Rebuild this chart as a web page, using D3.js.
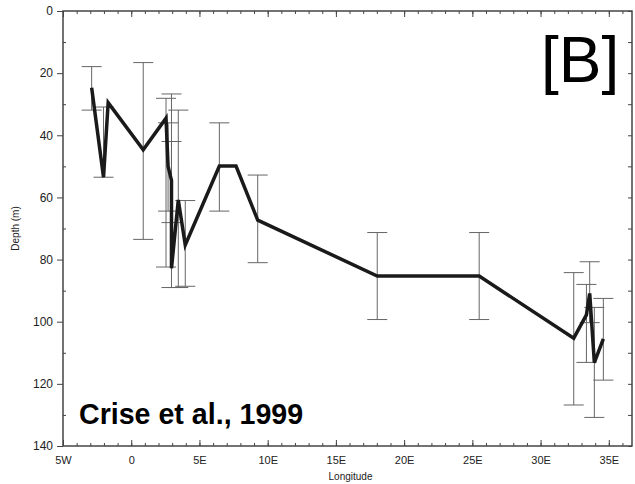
<!DOCTYPE html>
<html>
<head>
<meta charset="utf-8">
<script src="https://cdn.jsdelivr.net/npm/d3@7"></script>
<style>
  body { margin: 0; background: #fff; }
  svg { display: block; font-family: Arial, "Liberation Sans", sans-serif; }
</style>
</head>
<body>
<svg id="chart" width="635" height="484"></svg>
<script>
// station longitudes (deg E, negative = W)
var lon = [-2.9, -2.03, -1.69, 0.88, 2.55, 2.7, 2.95, 2.95, 3.45, 3.96,
  6.46, 7.68, 9.27, 18.03, 25.5, 32.43, 33.36, 33.6, 33.94, 34.6];
// depth (m)
var depth = [24.7, 53.5, 29.5, 44.7, 34.5, 50, 54.5, 82.8, 60.8, 75.3,
  49.9, 49.9, 67.3, 85.3, 85.3, 105.3, 97.8, 90.9, 113.2, 105.5];
// error bar limits (null = no bar)
var depthLo = [17.9, 30.9, null, 16.6, 28.1, 36, 42, 26.7, 31.9, 61,
  36, null, 52.8, 71.3, 71.3, 84.2, 88, 80.7, 95.4, 92.5];
var depthHi = [31.9, 53.5, null, 73.5, 82.4, 64.4, 68.1, 89, 89, 88.6,
  64.4, null, 81, 99.3, 99.3, 126.8, 113.1, 100.3, 130.8, 118.8];

var xMajor = [-5, 0, 5, 10, 15, 20, 25, 30, 35];
var xLabels = ['5W', '0', '5E', '10E', '15E', '20E', '25E', '30E', '35E'];
var yMajor = [0, 20, 40, 60, 80, 100, 120, 140];

var data = lon.map(function (d, i) {
  return { lon: d, depth: depth[i], lo: depthLo[i], hi: depthHi[i] };
});

var margin = { top: 11, right: 3, bottom: 38, left: 63 };
var width = 635 - margin.left - margin.right;
var height = 484 - margin.top - margin.bottom;

var svg = d3.select('#chart');
var g = svg.append('g').attr('transform', 'translate(' + margin.left + ',' + margin.top + ')');

var x = d3.scaleLinear().domain([-5, 36.7]).range([0, width]);
var y = d3.scaleLinear().domain([0, 140]).range([0, height]);

var minorX = d3.range(-5, 37, 1);
var minorY = d3.range(0, 141, 10);

function styleAxis(sel) {
  sel.select('.domain').remove();
  sel.selectAll('line').attr('stroke', '#444').attr('stroke-width', 1);
  sel.selectAll('text').attr('fill', '#222');
}

// bottom axis
g.append('g')
  .attr('transform', 'translate(0,' + height + ')')
  .call(d3.axisBottom(x).tickValues(minorX).tickSize(-3).tickFormat(''))
  .call(styleAxis);
g.append('g')
  .attr('transform', 'translate(0,' + height + ')')
  .call(d3.axisBottom(x).tickValues(xMajor).tickSize(-6).tickPadding(10)
    .tickFormat(function (d, i) { return xLabels[i]; }))
  .call(styleAxis)
  .selectAll('text').style('font-size', '11px');

// top axis
g.append('g')
  .call(d3.axisTop(x).tickValues(minorX).tickSize(-3).tickFormat(''))
  .call(styleAxis);
g.append('g')
  .call(d3.axisTop(x).tickValues(xMajor).tickSize(-6).tickFormat(''))
  .call(styleAxis);

// left axis
g.append('g')
  .call(d3.axisLeft(y).tickValues(minorY.filter(function (d) { return d % 20; })).tickSize(-3).tickFormat(''))
  .call(styleAxis);
g.append('g')
  .call(d3.axisLeft(y).tickValues(yMajor).tickSize(6).tickPadding(4))
  .call(styleAxis)
  .selectAll('text').style('font-size', '12px');

// right axis
g.append('g')
  .attr('transform', 'translate(' + width + ',0)')
  .call(d3.axisRight(y).tickValues(minorY).tickSize(-4).tickFormat(''))
  .call(styleAxis);

// frame
g.append('rect')
  .attr('width', width).attr('height', height)
  .attr('fill', 'none').attr('stroke', '#444').attr('stroke-width', 1.5);

// error bars
var bars = g.selectAll('.err')
  .data(data.filter(function (d) { return d.lo !== null; }))
  .enter().append('g').attr('class', 'err')
  .attr('stroke', '#666').attr('stroke-width', 1);

bars.append('line')
  .attr('x1', function (d) { return x(d.lon); })
  .attr('x2', function (d) { return x(d.lon); })
  .attr('y1', function (d) { return y(d.lo); })
  .attr('y2', function (d) { return y(d.hi); });
bars.append('line')
  .attr('x1', function (d) { return x(d.lon) - 10; })
  .attr('x2', function (d) { return x(d.lon) + 10; })
  .attr('y1', function (d) { return y(d.lo); })
  .attr('y2', function (d) { return y(d.lo); });
bars.append('line')
  .attr('x1', function (d) { return x(d.lon) - 10; })
  .attr('x2', function (d) { return x(d.lon) + 10; })
  .attr('y1', function (d) { return y(d.hi); })
  .attr('y2', function (d) { return y(d.hi); });

// depth line
var line = d3.line()
  .x(function (d) { return x(d.lon); })
  .y(function (d) { return y(d.depth); });

g.append('path')
  .datum(data)
  .attr('d', line)
  .attr('fill', 'none')
  .attr('stroke', '#1a1a1a')
  .attr('stroke-width', 3.5)
  .attr('stroke-linejoin', 'miter');

// labels
svg.append('text')
  .attr('x', margin.left + width / 2 + 3)
  .attr('y', 480)
  .attr('text-anchor', 'middle')
  .style('font-size', '10px')
  .attr('fill', '#222')
  .text('Longitude');

svg.append('text')
  .attr('transform', 'translate(19,' + (margin.top + height / 2) + ') rotate(-90)')
  .attr('text-anchor', 'middle')
  .style('font-size', '10px')
  .attr('fill', '#222')
  .text('Depth (m)');

svg.append('text')
  .attr('x', 541)
  .attr('y', 82)
  .style('font-size', '64px')
  .attr('fill', '#000')
  .text('[B]');

svg.append('text')
  .attr('x', 79)
  .attr('y', 424)
  .style('font-size', '28.6px')
  .style('font-weight', 'bold')
  .attr('fill', '#000')
  .text('Crise et al., 1999');
</script>
</body>
</html>
